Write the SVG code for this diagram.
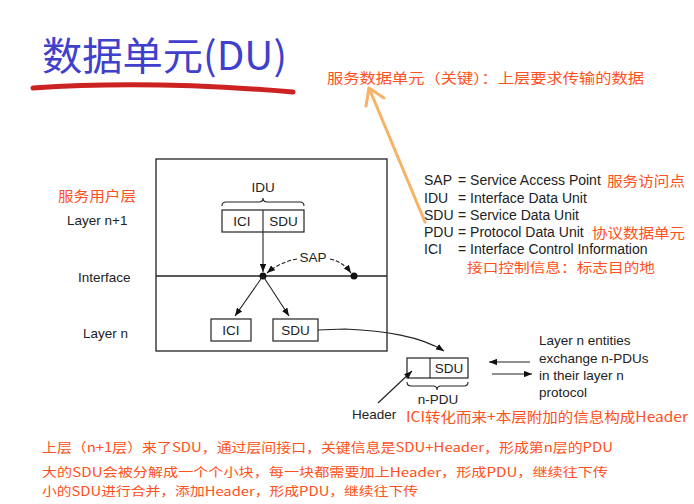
<svg xmlns="http://www.w3.org/2000/svg" width="694" height="504" viewBox="0 0 694 504">
<style>
.t{font-family:"Liberation Sans",Arial,sans-serif;font-size:13.5px;fill:#222}
.lg{font-family:"Liberation Sans",Arial,sans-serif;font-size:14px;fill:#222}
.c{text-anchor:middle}
.o{font-family:"Noto Sans CJK SC",sans-serif;font-size:14px;fill:#ff5020}
.s{font-size:13px}
.xs{font-size:12.5px}
.box{fill:#fff;stroke:#222;stroke-width:1.2}
.ln{fill:none;stroke:#222;stroke-width:1.1}
</style>
<defs>
<marker id="ah" viewBox="0 0 10 8" refX="10" refY="4" markerWidth="8" markerHeight="6.4" markerUnits="userSpaceOnUse" orient="auto">
<path d="M0,0 L10,4 L0,8 z" fill="#111"/>
</marker>
</defs>
<rect width="694" height="504" fill="#fff"/>
<g id="title">
<text x="42" y="70" font-family="'Noto Sans CJK SC',sans-serif" font-size="39" fill="#4040cc" textLength="245" lengthAdjust="spacingAndGlyphs">数据单元(DU)</text>
<path d="M33,88 Q150,80 293,92" fill="none" stroke="#cc2222" stroke-width="5" stroke-linecap="round"/>
</g>
<g id="annotations">
<text class="o" x="327" y="83" textLength="317" lengthAdjust="spacingAndGlyphs">服务数据单元（关键）：上层要求传输的数据</text>
<text class="o" x="58" y="201" textLength="78" lengthAdjust="spacingAndGlyphs">服务用户层</text>
<text class="o" x="607" y="186" textLength="78" lengthAdjust="spacingAndGlyphs">服务访问点</text>
<text class="o" x="592" y="238" textLength="93" lengthAdjust="spacingAndGlyphs">协议数据单元</text>
<text class="o s" x="467" y="272" textLength="188" lengthAdjust="spacingAndGlyphs">接口控制信息：标志目的地</text>
<text class="o" x="406" y="422" textLength="282" lengthAdjust="spacingAndGlyphs">ICI转化而来+本层附加的信息构成Header</text>
<text class="o s" x="42" y="452" textLength="571" lengthAdjust="spacingAndGlyphs">上层（n+1层）来了SDU，通过层间接口，关键信息是SDU+Header，形成第n层的PDU</text>
<text class="o xs" x="42" y="476.5" textLength="566" lengthAdjust="spacingAndGlyphs">大的SDU会被分解成一个个小块，每一块都需要加上Header，形成PDU，继续往下传</text>
<text class="o xs" x="42" y="495.5" textLength="376" lengthAdjust="spacingAndGlyphs">小的SDU进行合并，添加Header，形成PDU，继续往下传</text>
</g>
<g id="frame">
<rect x="156" y="159" width="231" height="192" fill="none" stroke="#222" stroke-width="1.3"/>
<line x1="156" y1="276" x2="387" y2="276" stroke="#222" stroke-width="1.3"/>
</g>
<g id="layer-labels">
<text class="t" x="67" y="225">Layer n+1</text>
<text class="t" x="78" y="282">Interface</text>
<text class="t" x="83" y="338">Layer n</text>
</g>
<g id="idu">
<text class="t c" x="263" y="192">IDU</text>
<path class="ln" d="M222,206 Q222,202 226,202 L259,202 Q263,202 263,198 Q263,202 267,202 L300,202 Q304,202 304,206"/>
<rect class="box" x="222" y="210" width="82" height="22"/>
<line class="ln" x1="263" y1="210" x2="263" y2="232"/>
<text class="t c" x="242" y="226">ICI</text>
<text class="t c" x="283.5" y="226">SDU</text>
</g>
<g id="sap">
<circle cx="263" cy="276" r="3.5" fill="#111"/>
<circle cx="354" cy="276" r="3.5" fill="#111"/>
<text class="t c" x="313" y="262">SAP</text>
</g>
<g id="ici-n">
<rect class="box" x="211" y="319" width="40" height="22"/>
<text class="t c" x="231" y="335">ICI</text>
</g>
<g id="sdu-n">
<rect class="box" x="273" y="319" width="45" height="22"/>
<text class="t c" x="295.5" y="335">SDU</text>
</g>
<g id="n-pdu">
<rect class="box" x="407" y="358" width="61" height="20"/>
<line class="ln" x1="430" y1="358" x2="430" y2="378"/>
<text class="t c" x="449" y="373">SDU</text>
<path class="ln" d="M407,382 Q407,386 411,386 L433,386 Q437,386 437,390 Q437,386 441,386 L464,386 Q468,386 468,382"/>
<text class="t c" x="438" y="404">n-PDU</text>
<text class="t" x="352" y="419">Header</text>
</g>
<g id="legend">
<text class="lg" x="424" y="185">SAP</text><text class="lg" x="458" y="185">= Service Access Point</text>
<text class="lg" x="424" y="203">IDU</text><text class="lg" x="458" y="203">= Interface Data Unit</text>
<text class="lg" x="424" y="220">SDU</text><text class="lg" x="458" y="220">= Service Data Unit</text>
<text class="lg" x="424" y="237">PDU</text><text class="lg" x="458" y="237">= Protocol Data Unit</text>
<text class="lg" x="424" y="254">ICI</text><text class="lg" x="458" y="254">= Interface Control Information</text>
</g>
<g id="exchange-note">
<text class="t" x="539" y="345">Layer n entities</text>
<text class="t" x="539" y="363">exchange n-PDUs</text>
<text class="t" x="539" y="380">in their layer n</text>
<text class="t" x="539" y="397">protocol</text>
</g>
<g id="connectors">
<line class="ln" x1="263" y1="232" x2="263" y2="272" marker-end="url(#ah)"/>
<path class="ln" d="M297,259 Q280,262 267,273" stroke-dasharray="4,2" marker-end="url(#ah)"/>
<path class="ln" d="M330,259 Q343,262 351,273" stroke-dasharray="4,2" marker-end="url(#ah)"/>
<line class="ln" x1="263" y1="276" x2="235" y2="316" marker-end="url(#ah)"/>
<line class="ln" x1="263" y1="276" x2="289" y2="316" marker-end="url(#ah)"/>
<path class="ln" d="M318,330 L345,329 C385,331 420,336 444,351" marker-end="url(#ah)"/>
<line class="ln" x1="378" y1="403" x2="412" y2="371" marker-end="url(#ah)"/>
<line class="ln" x1="530" y1="362" x2="489" y2="362" marker-end="url(#ah)"/>
<line class="ln" x1="492" y1="374" x2="532" y2="374" marker-end="url(#ah)"/>
<path d="M425,222 L369,88 M366,106 L369,88 L384,98" fill="none" stroke="#f7b266" stroke-width="3" stroke-linecap="round" stroke-linejoin="round"/>
</g>
</svg>
